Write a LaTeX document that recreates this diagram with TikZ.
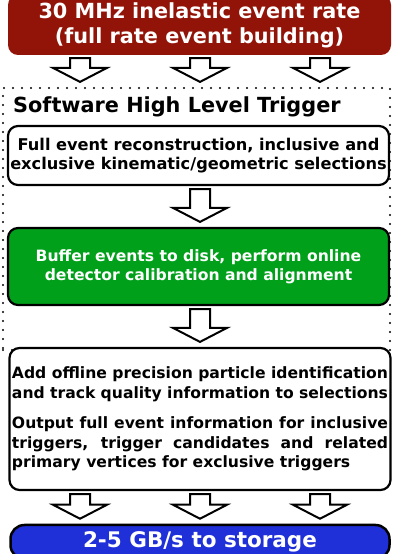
\documentclass[tikz,border=0pt]{standalone}
\usepackage{fontspec}
\setmainfont{DejaVu Sans}
\usetikzlibrary{calc}
\definecolor{ratered}{RGB}{146,20,8}
\definecolor{buffgreen}{RGB}{0,160,26}
\definecolor{storeblue}{RGB}{32,48,216}
\tikzset{
  stage/.style={draw,line width=2.2pt,rounded corners=10pt,fill=white,
    minimum width=381pt,minimum height=59pt,inner sep=0pt,align=center,
    font=\bfseries\fontsize{16.2}{19}\selectfont},
  hollow/.style={draw,line width=2pt,fill=white,line join=miter},
  dotbox/.style={draw,line width=2.2pt,dash pattern=on 0pt off 9pt,line cap=round,
    minimum width=387pt,minimum height=262pt,inner sep=0pt},
  bigfont/.style={font=\bfseries\fontsize{20.8}{25}\selectfont}
}
% open block arrow from one node down to the next
\newcommand{\hollowarrow}[3]{%
  \draw[hollow] let \p1=(#2.south), \p2=(#3.north) in
    (#1pt-10pt,\y1-3pt) -- (#1pt+10pt,\y1-3pt) -- (#1pt+10pt,\y2+19pt)
    -- (#1pt+27pt,\y2+19pt) -- (#1pt,\y2+5pt) -- (#1pt-27pt,\y2+19pt)
    -- (#1pt-10pt,\y2+19pt) -- cycle;}

\begin{document}
\begin{tikzpicture}[x=1pt,y=1pt]
\useasboundingbox (0,0) rectangle (392,554);
\node[fill=ratered,rounded corners=10pt,minimum width=383pt,minimum height=60pt,
  text=white,bigfont,align=center,inner sep=0pt] (rate) at (199.5,529)
  {30 MHz inelastic event rate\\(full rate event building)};
\node[dotbox] (hlt) at (196.5,335) {};
\node[anchor=base west,bigfont,inner sep=0pt] (hlttitle) at (13,441) {Software High Level Trigger};
\node[stage] (reco) at (198.5,398.5)
  {Full event reconstruction, inclusive and\\exclusive kinematic/geometric selections};
\node[stage,fill=buffgreen,text=white,minimum height=77pt,
  font=\bfseries\fontsize{15.6}{19}\selectfont] (buffer) at (198.5,287.5)
  {Buffer events to disk, perform online\\detector calibration and alignment};
\node[stage,minimum height=142pt,text width=376pt,align=justify,
  font=\bfseries\fontsize{15.6}{19.5}\selectfont] (offline) at (200,135)
  {Add offline precision particle identification\linebreak
   and track quality information to selections\\[11pt]
   Output full event information for inclusive\linebreak
   triggers, trigger candidates and related\linebreak
   primary vertices for exclusive triggers};
\node[draw,line width=2.5pt,fill=storeblue,rounded corners=14pt,minimum width=379pt,
  minimum height=34pt,text=white,inner sep=0pt,font=\bfseries\fontsize{21.5}{25}\selectfont]
  (store) at (200,12) {2-5 GB/s to storage};
% arrows
\foreach \ax in {80,200,320} {\hollowarrow{\ax}{rate}{hlt}}
\hollowarrow{200}{reco}{buffer}
\hollowarrow{200}{buffer}{offline}
\foreach \ax in {80,200,320} {\hollowarrow{\ax}{offline}{store}}
\end{tikzpicture}
\end{document}
